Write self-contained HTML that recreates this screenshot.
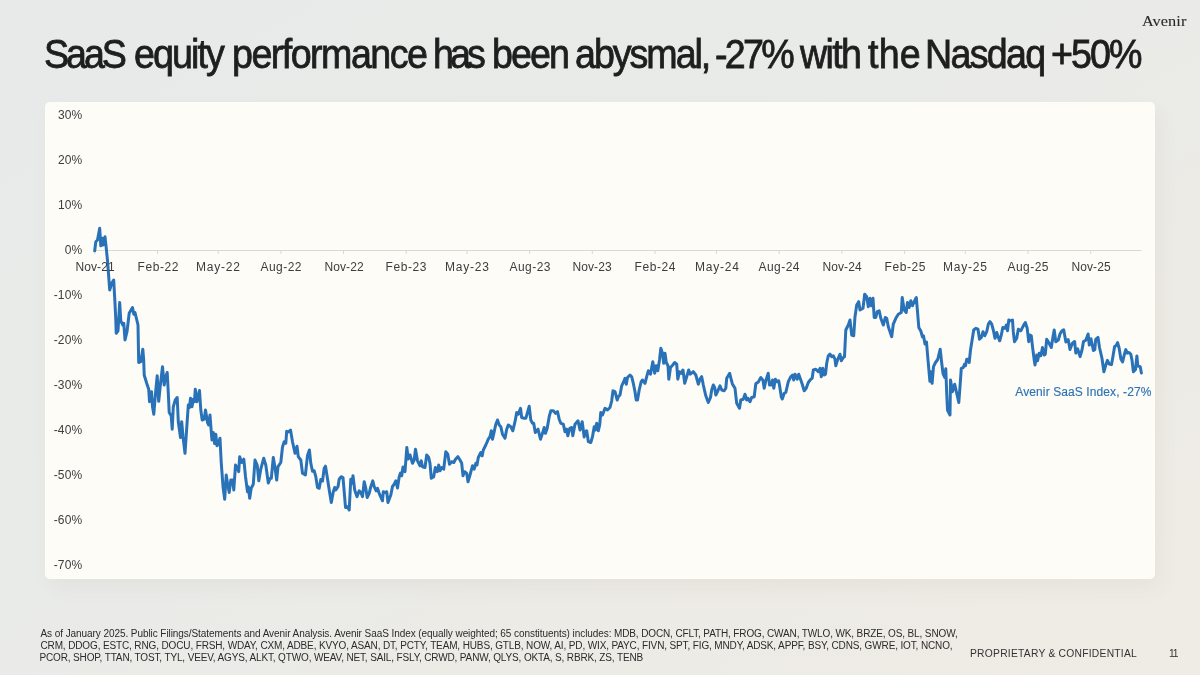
<!DOCTYPE html>
<html><head><meta charset="utf-8"><title>SaaS equity performance</title>
<style>
*{margin:0;padding:0;box-sizing:border-box}
html,body{width:1200px;height:675px;overflow:hidden}
body{position:relative;font-family:"Liberation Sans",sans-serif;color:#222;
 background:linear-gradient(150deg,#e8eae9 0%,#e9ebe9 42%,#ebebe7 58%,#edebe5 74%,#efece6 100%);}
.logo{position:absolute;left:1141.5px;top:12.7px;-webkit-text-stroke:0.1px #2a2a2a;font-family:"Liberation Serif",serif;font-size:14.3px;line-height:16px;letter-spacing:0.05px;color:#2a2a2a;white-space:nowrap;transform:scaleX(1.14);transform-origin:0 50%}
.title{position:absolute;left:0;top:29.4px;width:1200px;height:50px;font-size:40px;line-height:50px;color:#1e1e1e;white-space:nowrap;-webkit-text-stroke:0.8px #1e1e1e}
.title span{position:absolute;top:0;display:block;transform-origin:0 50%;transform:scaleX(0.94)}
.card{position:absolute;left:45px;top:102px;width:1110px;height:477px;background:#fdfcf7;border-radius:5px;box-shadow:5px 9px 20px rgba(90,80,60,0.05)}
.yl{position:absolute;left:40px;width:42.5px;text-align:right;font-size:12px;line-height:15px;color:#3d3d3d;white-space:nowrap;letter-spacing:0.2px;text-indent:0.2px}
.xl{position:absolute;top:259.8px;width:60px;text-align:center;font-size:12px;line-height:15px;color:#3d3d3d;white-space:nowrap;letter-spacing:0.45px;text-indent:0.45px}
svg{position:absolute;left:0;top:0}
.logo,.title,.yl,.xl,.series,.fn,.conf,.pg{will-change:transform}
.series{position:absolute;left:1000px;width:151.5px;top:384.6px;text-align:right;font-size:12px;line-height:15px;color:#2c73b7;white-space:nowrap;letter-spacing:0.1px;-webkit-text-stroke:0.15px #2c73b7}
.fn{position:absolute;left:0;top:627.5px;width:1000px;height:40px;font-size:10px;line-height:12.15px;color:#2b2b2b;white-space:nowrap}
.fn span{position:absolute;display:block}
.conf{position:absolute;left:969.6px;top:647.7px;font-size:10.3px;line-height:12px;letter-spacing:0.24px;color:#333;white-space:nowrap}
.pg{position:absolute;left:1169.3px;top:647.7px;font-size:10.3px;line-height:12px;color:#333;letter-spacing:-1.1px}
</style></head>
<body>
<div class="logo">Avenir</div>
<div class="title"><span style="left:44.12px;letter-spacing:-3.209px">SaaS</span><span style="left:134.06px;letter-spacing:-2.051px">equity</span><span style="left:231.87px;letter-spacing:-1.621px">performance</span><span style="left:432.62px;letter-spacing:-4.138px">has</span><span style="left:492.37px;letter-spacing:-2.004px">been</span><span style="left:575.31px;letter-spacing:-2.149px">abysmal,</span><span style="left:714.56px;letter-spacing:-2.851px">-27%</span><span style="left:799.5px;letter-spacing:-1.723px">with</span><span style="left:867.5px;letter-spacing:0.261px">the</span><span style="left:925.18px;letter-spacing:-1.813px">Nasdaq</span><span style="left:1050.62px;letter-spacing:-2.039px">+50%</span></div>
<div class="card"></div>
<svg width="1200" height="675" viewBox="0 0 1200 675">
 <g stroke="#d9d9d6" stroke-width="1" fill="none">
  <line x1="94.5" y1="250.5" x2="1141.5" y2="250.5"/>
  <line x1="95" y1="250.5" x2="95" y2="254" /><line x1="157.5" y1="250.5" x2="157.5" y2="254" /><line x1="218.2" y1="250.5" x2="218.2" y2="254" /><line x1="280.9" y1="250.5" x2="280.9" y2="254" /><line x1="343.5" y1="250.5" x2="343.5" y2="254" /><line x1="406.2" y1="250.5" x2="406.2" y2="254" /><line x1="467" y1="250.5" x2="467" y2="254" /><line x1="529.6" y1="250.5" x2="529.6" y2="254" /><line x1="592.3" y1="250.5" x2="592.3" y2="254" /><line x1="655" y1="250.5" x2="655" y2="254" /><line x1="716.5" y1="250.5" x2="716.5" y2="254" /><line x1="779.2" y1="250.5" x2="779.2" y2="254" /><line x1="841.9" y1="250.5" x2="841.9" y2="254" /><line x1="904.6" y1="250.5" x2="904.6" y2="254" /><line x1="965.3" y1="250.5" x2="965.3" y2="254" /><line x1="1028" y1="250.5" x2="1028" y2="254" /><line x1="1090.7" y1="250.5" x2="1090.7" y2="254" />
 </g>
 <polyline fill="none" stroke="#2a72b8" stroke-width="3" stroke-linejoin="round" stroke-linecap="round" points="94.7,250.8 95.8,241.7 97.5,240 99.7,228.3 100.8,245.8 102.5,238.3 103.3,245 105,236.7 106.1,246.7 107.6,261.7 109.7,290 111.7,283.3 113.7,280 115,303.3 115.8,320 116.2,333.3 118,330.8 119.7,302.5 120.8,321 122.8,325 123.8,323.3 125,340 127,331.7 129.2,313.3 132.5,307.5 133.8,314.2 135,312.5 138,325 138.7,362.5 140.8,361.7 142.8,349.2 143.7,360 144.2,375 146.7,383.3 148.7,389.2 149.5,401.7 151.5,391.7 152.5,406.7 153.8,414.2 155.8,390 157.2,375.8 158.7,401.3 160.2,386.5 162.5,366.7 164.2,385 165.3,378.3 167.2,372.5 168.3,393 169.2,412.5 171.2,415.8 172.2,429.2 173.3,406.7 175.3,400 177.2,397.5 178.3,421.7 180.5,437.5 181.7,421.7 183,436.7 185,453.3 186.7,428.3 188.3,405 189.5,407.5 190.5,398.3 192,406.7 193.3,399.2 194.5,401.7 195.3,389.2 197,401.7 199.5,390.5 200.8,410 202.2,420 204.2,419.2 205.5,410 207.5,422.5 208.7,425 210,415 211.5,435 212,440 213.3,432.5 214.6,443.5 215.8,434.2 217,445.8 218.3,443.8 220,438.3 221.2,462 223,486.7 224.7,499.2 226.2,475 227.5,483.3 229.2,492.5 230.8,480 232.5,480 233.8,490 235.5,465 237.5,468.3 238.7,471.7 239.7,456.7 241.7,462.5 243.8,459.2 245.5,476.7 247.5,491.7 248.3,486.7 249.7,498.3 251.2,488.3 253.3,484.2 255,460 257.2,465 258.8,480.8 260.8,469 263.7,458.3 265.8,465 268.3,483 270,478.5 271.3,478.3 273.3,457.5 275,467.5 276.7,480 278,466.7 280.8,462.5 282.5,447 284.2,441.7 285.8,443.3 286.7,431.3 288.3,432 290.5,430 292.5,441.7 295,453.3 297,446.2 298.3,456.7 300.8,460 302.5,473.3 305.4,475 307.5,455.4 309.4,450 310.8,463.3 312.5,471.2 314.2,470.8 315.8,476.7 317.5,487.5 319.2,488.3 320.8,479.6 322.5,481 324.2,468.3 325.5,466.2 327.5,478.8 329.5,491.7 331.3,502.5 333.3,491.7 334.7,487.5 335.8,490 338,486.7 339.2,479.2 341.2,476.7 343,477.5 344.2,491.7 345.5,507.5 347.5,506.7 349.2,510 350.8,479.2 352,483.3 353,475.8 354.7,490 357,496.7 359.2,490.8 360.8,492.5 362.5,496.7 364.2,481.7 365.8,488.3 367.2,497.5 369.2,493.3 370.8,486.7 372.8,480.8 374.2,486.7 376.2,490.8 377.5,488.3 379.2,493.3 382.5,500.8 383.3,491.7 385,492.5 386.7,491.7 388,502.5 390.8,495 392.5,486.5 394.2,484.2 395.8,480.8 397.5,488 399.2,476.7 400.5,473 401.7,475.8 403,467 405,471.7 406.8,447.5 408.3,459 410,455 412.5,463.3 414.2,460 415.5,449.2 417.5,460.8 420,465.8 421.2,460.8 422.5,466.7 425,467.5 426.7,455 428.7,457.5 430,463.3 431.3,478.3 433.7,476.7 435.3,467.5 437.2,471.7 438.7,465 440,470.8 441.7,467.5 443.7,469.2 445.8,451.7 447.8,454.2 449.5,464.2 451.7,461.7 453.8,462.5 455.5,459.2 457.8,456.7 460,460 461.7,463.3 463,475.8 464.7,471.7 466.7,473.3 468,481.7 470,475 472.5,465.8 474.2,469.2 475.8,463.3 477,465 478.3,457.5 480.8,452.5 482.2,455.8 483.3,450 485.8,445 488.3,439.2 490,436.7 491.3,430.8 492.5,439.2 494.2,431.7 495.8,424.2 497.5,420 499.2,425 500.8,426.7 502.5,434.2 505,438.3 506.7,429.2 508.3,425 510.8,426.7 512.8,430.8 515,421.7 516.7,412.5 518.3,414.2 520.5,408.3 521.7,417.5 524.2,418.3 525.8,418.3 527.5,412.5 529.2,406.3 530.8,420 532.5,423.3 533.7,423.3 535.3,432.5 538,429.2 540.5,439.2 542.5,433.3 544.2,427.5 545.5,433.3 547.2,428.3 549.2,416.7 550.8,410.8 553.3,410.8 555.5,413.3 557.5,411.7 559.2,419.2 560.8,423.3 563.3,424.2 565,431.7 566.7,429.2 567.8,435.8 569.7,428.3 571.7,427.5 572.8,435.8 575,424.2 578,420.8 580,430 582.2,421.7 584.2,437 585.3,431.7 586.7,430.8 588.3,441.5 590.8,442.5 592.5,436.7 594.2,426.7 595.3,430 596.7,423.3 598.3,430.8 599.7,425 600.8,412.5 602.5,415 605,408.3 607.5,410 610,407.5 611.7,400.8 613,390.8 615,391.7 617.2,400 618.3,396.7 620,395 621.7,385.8 623.7,381.7 625,378.3 626.3,384.2 627.5,377.5 630,375 631.7,376.7 633.3,383.3 635,391.7 636.2,400 637.5,400 639.2,390 641.2,381.7 642.5,380 645,383.3 646.7,376.7 648.3,370.8 650.5,374.2 651.7,367.5 652.8,361.7 654.7,373.3 656.2,365.8 657.8,370.8 659.5,360 660.8,348.3 662.5,353.3 663.7,363.3 665,353.3 666.3,362.5 668,365.8 668.8,379.2 670.5,367.5 672.8,365 674.7,362.5 676.7,364.2 677.8,379.2 679.5,371.7 681.3,373.3 683,370 684.7,383.3 686.7,376.7 688.7,370 690.3,374.2 693.3,371.7 695.8,375 698.3,384.2 700,379.2 701.7,376.7 703.3,385 705.8,395.8 708.3,402.5 710.5,397.5 711.7,390 713.3,385 714.7,387.5 715.8,395 717.5,391.7 720,385.8 721.7,390 724.2,390.8 725.8,388.3 726.7,378.3 729.7,373.3 731.3,380 732.5,384.2 735,388.3 736.7,403.3 739.5,408.3 740.8,400 743.3,399.2 745,394.2 746.7,400 748,398.3 750,401.7 751.7,397.5 754.2,396.7 755.8,383.8 758.3,382 760.8,377.5 763,380.4 764.2,388.3 765.8,380.8 768.2,373.3 769.5,385 771.3,385 772.5,380 773.8,388.3 775.3,379.2 777,381.7 778.7,380.8 780,388.3 781.3,397 782.3,399 784.2,393.3 785.8,392.5 788.3,381.7 790.8,376.7 792.5,375 793.7,380 795,374.2 797.2,379.2 798.7,374.2 800.8,380 802.5,385 804.2,390.8 806.2,388.3 808.3,382.5 810.8,379.2 812.2,378.3 813.3,370 815.8,369.2 818.3,371.7 820,368.3 821.3,376.7 822.8,368.3 824.2,375 825.5,374.2 826.7,363.3 828.3,355.8 830,354.2 831.7,356.7 833.3,355.8 835,359.2 835.8,365.8 837.5,360 840,354.2 841.3,360.8 843.3,357.5 844.5,356.7 845.8,330 848.3,325 850,320 851.7,335 853.7,335.8 855,316.7 856.7,305 858.7,301.7 860,310 863,308.3 864.7,294.2 866.7,296.7 868.3,306.7 870,298.3 871.3,305.8 873,298.3 874.2,317.5 875.8,317.5 877.2,311.7 879.2,310.8 880.8,318.3 883.3,325 885.3,317.5 886.7,318.3 888.3,326.7 891.7,336.7 893.3,324.2 895.8,318.3 898.3,314.2 901.3,312.5 902.2,297.5 904.2,310 906.2,312.5 907.5,302.5 909.2,307.5 910.8,300.8 912.5,305.8 914.2,301.7 916.3,297.5 917.5,311.7 918.8,327.5 920.8,331 922.5,337 923.5,335.8 925,344 926.5,342 927.7,356.5 929.9,381.3 930.8,371.7 932.1,383.3 933.5,366.7 935.5,362.5 937.7,359.5 940.2,349.2 941.7,363 943.1,374 944.7,377.5 945.8,368.8 946.7,393.3 947.5,410 950,415 950.5,380 952.5,391.7 954.7,384.2 956.7,393.3 958.8,402.5 960,386.7 961.3,368.3 963.3,367.5 964.5,364.2 965.5,365.8 966.7,359.2 968.3,359.2 969.2,362.5 970.5,350 972,340.8 973.7,330 975.8,328.3 978,329.2 979.5,339.2 981.3,337.5 983,331.7 984.7,335.8 986.7,331.7 988.3,324.2 990,321.7 991.7,324.2 993.3,330 995,338.3 996.7,332.5 998.3,337.5 999.7,340.8 1001.3,335 1002.8,327.5 1005,328.3 1006.3,325 1007.5,330.8 1008.8,320 1010.8,320.8 1012.5,320 1013.3,331.7 1014.5,341.7 1016.7,338.3 1018.3,329.2 1020.8,330.8 1023.3,325.8 1025.3,322.5 1027.2,328.3 1028.7,341.7 1030,335 1031.3,335.8 1032.5,346.7 1034.2,360 1035,365 1036.7,355 1037.5,360.8 1039.2,353.3 1040.8,355.8 1042.5,347.5 1044.2,355 1045.3,354.2 1046.7,339.2 1048.7,342.5 1051.3,347.5 1053,336.7 1054.2,330 1055.8,341.7 1058.3,340 1060,334 1061.8,331 1063.7,329.8 1065.9,342 1068.2,339.5 1070,349.5 1072.3,343.5 1074.6,341.5 1075.8,353.1 1077.6,348.8 1080.1,356.6 1082,350 1083.5,341.5 1085.8,340.2 1088.1,334 1089.3,345 1091,338.7 1093.4,350.5 1094.8,349.7 1095.7,339.4 1098,337.4 1099.5,347.5 1102,358.5 1103.9,371.8 1105.7,365.3 1107.4,360.4 1109.2,364 1111.5,364.6 1112.7,358 1114.6,346.5 1116.2,345.5 1117.6,342.6 1119.1,348 1120.9,358.9 1122.6,361.9 1124.4,354.3 1125.8,349.6 1127.3,353.1 1129.1,352.5 1130.8,354.3 1132,360.1 1133.4,371.8 1135.5,369.5 1136.9,356 1137.8,366 1140.2,366.6 1141.4,373"/>
</svg>
<div class="yl" style="top:108.2px">30%</div><div class="yl" style="top:153.2px">20%</div><div class="yl" style="top:198.2px">10%</div><div class="yl" style="top:243.2px">0%</div><div class="yl" style="top:288.2px">-10%</div><div class="yl" style="top:333.2px">-20%</div><div class="yl" style="top:378.2px">-30%</div><div class="yl" style="top:423.2px">-40%</div><div class="yl" style="top:468.2px">-50%</div><div class="yl" style="top:513.2px">-60%</div><div class="yl" style="top:558.2px">-70%</div>
<div class="xl" style="left:65px;letter-spacing:0.1px;text-indent:0.1px">Nov-21</div><div class="xl" style="left:127.5px;letter-spacing:0.6px;text-indent:0.6px">Feb-22</div><div class="xl" style="left:188.2px;letter-spacing:0.8px;text-indent:0.8px">May-22</div><div class="xl" style="left:250.89999999999998px;letter-spacing:0.45px;text-indent:0.45px">Aug-22</div><div class="xl" style="left:313.5px;letter-spacing:0.1px;text-indent:0.1px">Nov-22</div><div class="xl" style="left:376.2px;letter-spacing:0.6px;text-indent:0.6px">Feb-23</div><div class="xl" style="left:437px;letter-spacing:0.8px;text-indent:0.8px">May-23</div><div class="xl" style="left:499.6px;letter-spacing:0.45px;text-indent:0.45px">Aug-23</div><div class="xl" style="left:562.3px;letter-spacing:0.1px;text-indent:0.1px">Nov-23</div><div class="xl" style="left:625px;letter-spacing:0.6px;text-indent:0.6px">Feb-24</div><div class="xl" style="left:686.5px;letter-spacing:0.8px;text-indent:0.8px">May-24</div><div class="xl" style="left:749.2px;letter-spacing:0.45px;text-indent:0.45px">Aug-24</div><div class="xl" style="left:811.9px;letter-spacing:0.1px;text-indent:0.1px">Nov-24</div><div class="xl" style="left:874.6px;letter-spacing:0.6px;text-indent:0.6px">Feb-25</div><div class="xl" style="left:935.3px;letter-spacing:0.8px;text-indent:0.8px">May-25</div><div class="xl" style="left:998px;letter-spacing:0.45px;text-indent:0.45px">Aug-25</div><div class="xl" style="left:1060.7px;letter-spacing:0.1px;text-indent:0.1px">Nov-25</div>
<div class="series">Avenir SaaS Index, -27%</div>
<div class="fn"><span style="left:40.5px;top:0.0px;letter-spacing:-0.0698px">As of January 2025. Public Filings/Statements and Avenir Analysis. Avenir SaaS Index (equally weighted; 65 constituents) includes:</span><span style="left:614.0px;top:0.0px;letter-spacing:-0.127px">MDB, DOCN, CFLT, PATH, FROG, CWAN, TWLO, WK, BRZE, OS, BL, SNOW,</span><span style="left:40.5px;top:12.12px;letter-spacing:-0.1329px">CRM, DDOG, ESTC, RNG, DOCU, FRSH, WDAY, CXM, ADBE, KVYO, ASAN, DT, PCTY, TEAM, HUBS, GTLB, NOW, AI, PD, WIX, PAYC, FIVN, SPT, FIG, MNDY, ADSK, APPF, BSY, CDNS, GWRE, IOT, NCNO,</span><span style="left:39.5px;top:24.24px;letter-spacing:-0.1422px">PCOR, SHOP, TTAN, TOST, TYL, VEEV, AGYS, ALKT, QTWO, WEAV, NET, SAIL, FSLY, CRWD, PANW, QLYS, OKTA, S, RBRK, ZS, TENB</span></div>
<div class="conf">PROPRIETARY &amp; CONFIDENTIAL</div>
<div class="pg">11</div>
</body></html>
